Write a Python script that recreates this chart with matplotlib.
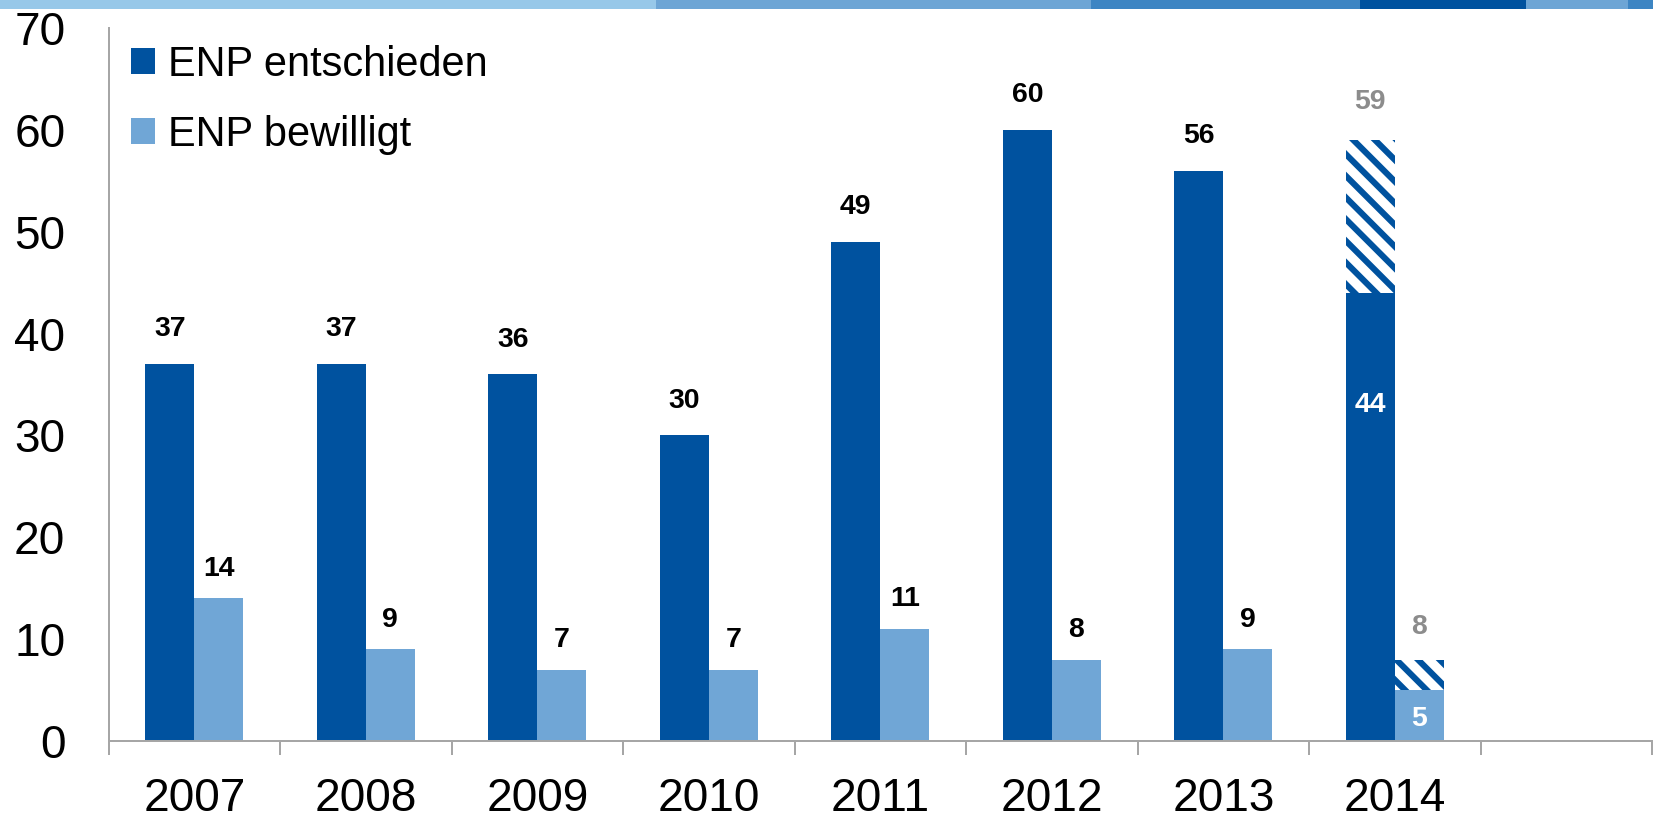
import matplotlib
matplotlib.use("Agg")
import matplotlib.pyplot as plt
from matplotlib.patches import Rectangle, Patch
import numpy as np

plt.rcParams['font.family'] = ['Liberation Sans', 'DejaVu Sans']
plt.rcParams['hatch.linewidth'] = 3.4

# Daten
years = ['2007', '2008', '2009', '2010', '2011', '2012', '2013', '2014']
entschieden = [37, 37, 36, 30, 49, 60, 56, 44]
bewilligt = [14, 9, 7, 7, 11, 8, 9, 5]
entschieden_prognose = 59   # Hochrechnung 2014
bewilligt_prognose = 8

dunkel = '#00529F'
hell = '#70A6D6'
grau = '#8C8C8C'
achse = '#A6A6A6'

fig = plt.figure(figsize=(1653 / 130, 818 / 130), dpi=130)
ax = fig.add_axes([108.6 / 1653, 77 / 818, 1543.5 / 1653, 713 / 818])

# Farbstreifen oben
streifen = [(0.0, 0.397, '#97C8E9'), (0.397, 0.660, '#6DA5D5'),
            (0.660, 0.823, '#3D85C3'), (0.823, 0.923, '#00529F'),
            (0.923, 0.985, '#6DA5D5'), (0.985, 1.0, '#3D85C3')]
for x0, x1, c in streifen:
    fig.patches.append(Rectangle((x0, 1 - 9 / 818), x1 - x0, 9 / 818,
                                 transform=fig.transFigure, color=c, lw=0))

x = np.arange(len(years))
w = 0.286

ax.bar(x - w / 2, entschieden, w, color=dunkel, lw=0, label='ENP entschieden')
ax.bar(x + w / 2, bewilligt, w, color=hell, lw=0, label='ENP bewilligt')

# schraffierte Hochrechnung 2014
i = len(years) - 1
ax.bar(x[i] - w / 2, entschieden_prognose - entschieden[i], w, bottom=entschieden[i],
       facecolor='white', edgecolor=dunkel, hatch='\\\\', lw=0)
ax.bar(x[i] + w / 2, bewilligt_prognose - bewilligt[i], w, bottom=bewilligt[i],
       facecolor='white', edgecolor=dunkel, hatch='\\\\', lw=0)

lab = dict(ha='center', va='center', fontsize=15.7, fontweight='bold')
for k in range(len(years) - 1):
    ax.text(x[k] - w / 2, entschieden[k] + 3.4, str(entschieden[k]), color='black', **lab)
    ax.text(x[k] + w / 2, bewilligt[k] + 2.9, str(bewilligt[k]), color='black', **lab)
ax.text(x[i] - w / 2, 33, str(entschieden[i]), color='white', **lab)
ax.text(x[i] + w / 2, 2.2, str(bewilligt[i]), color='white', **lab)
ax.text(x[i] - w / 2, entschieden_prognose + 3.7, str(entschieden_prognose), color=grau, **lab)
ax.text(x[i] + w / 2, bewilligt_prognose + 3.2, str(bewilligt_prognose), color=grau, **lab)

ax.set_xlim(-0.5, len(years) + 0.5)
ax.set_ylim(0, 70)
ax.set_yticks(range(0, 71, 10))
ax.set_xticks(x, years)
ax.set_xticks(np.arange(-0.5, len(years) + 1, 1), minor=True)
ax.tick_params(axis='x', which='major', length=0, pad=20, labelsize=25.5)
ax.tick_params(axis='x', which='minor', length=7.8, width=1.1, color=achse, direction='out')
ax.tick_params(axis='y', length=0, pad=24, labelsize=25.5)

for s in ['top', 'right']:
    ax.spines[s].set_visible(False)
for s in ['left', 'bottom']:
    ax.spines[s].set_color(achse)
    ax.spines[s].set_linewidth(1.1)

handles = [Patch(facecolor=dunkel, lw=0), Patch(facecolor=hell, lw=0)]
ax.legend(handles, ['ENP entschieden', 'ENP bewilligt'], loc='upper left',
          bbox_to_anchor=(131 / 1653, 1 - 45 / 818), bbox_transform=fig.transFigure,
          frameon=False, fontsize=23, handlelength=0.58, handleheight=0.58,
          handletextpad=0.32, labelspacing=0.72, borderpad=0, borderaxespad=0)

fig.savefig('out.png', dpi=130)
